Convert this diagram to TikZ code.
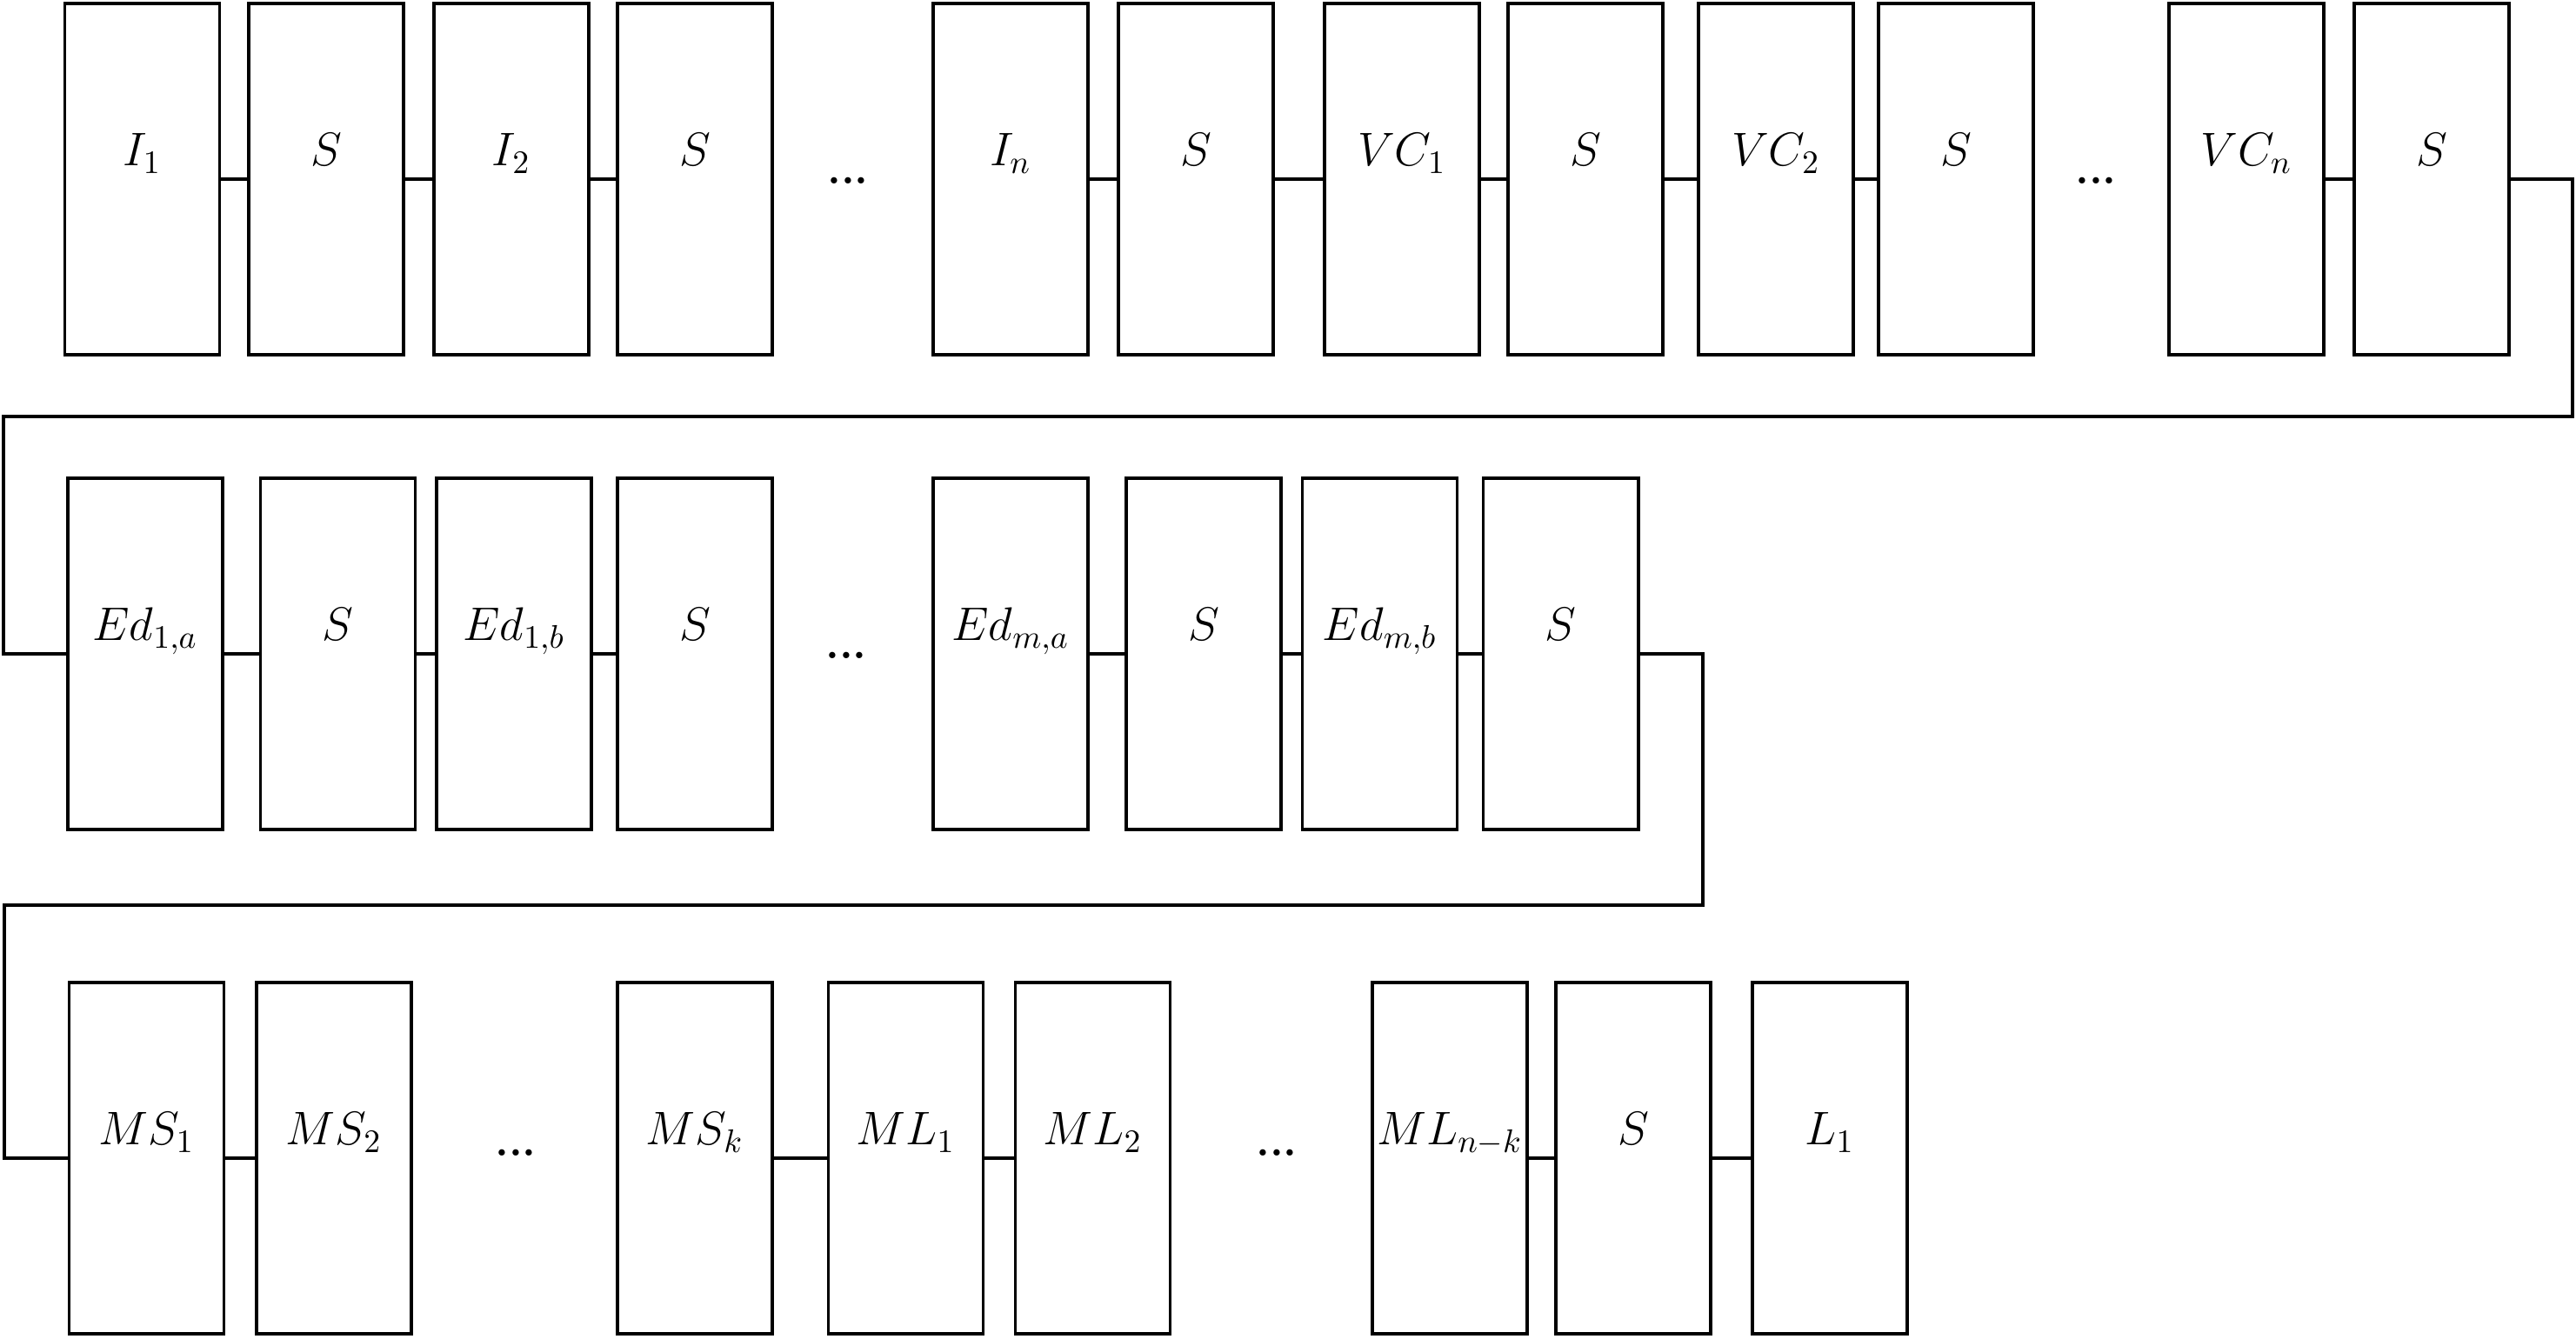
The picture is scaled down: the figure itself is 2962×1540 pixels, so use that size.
\documentclass[tikz,border=0pt]{standalone}
\usepackage{graphicx}
\newcommand{\mylab}[1]{\scalebox{1.07}{$#1$}}
\begin{document}
\begin{tikzpicture}[x=0.01cm,y=-0.01cm,
  blk/.style={draw, line width=1.1pt, minimum width=1.78cm, minimum height=4.04cm, inner sep=0pt},
  lbl/.style={anchor=base, yshift=0.15cm, inner sep=0pt, font=\fontsize{14.4}{17}\selectfont},
  dotsnode/.style={anchor=base, inner sep=0pt, font=\fontsize{14.4}{17}\selectfont\bfseries},
  wire/.style={line width=1.1pt}]
\useasboundingbox (0,0) rectangle (2962,1540);
% Row 1
\node[blk] (r1a) at (163.5,206) {};
\node[blk] (r1b) at (375,206) {};
\node[blk] (r1c) at (588,206) {};
\node[blk] (r1d) at (799,206) {};
\node[dotsnode] (r1dots1) at (975,212) {...};
\node[blk] (r1e) at (1162,206) {};
\node[blk] (r1f) at (1375,206) {};
\node[blk] (r1g) at (1612,206) {};
\node[blk] (r1h) at (1823,206) {};
\node[blk] (r1i) at (2042,206) {};
\node[blk] (r1j) at (2249,206) {};
\node[dotsnode] (r1dots2) at (2410,212) {...};
\node[blk] (r1k) at (2583,206) {};
\node[blk] (r1l) at (2796,206) {};
\node[lbl] (t1a) at (r1a.center) {\mylab{I_1}};
\node[lbl] (t1b) at (r1b.center) {\mylab{S}};
\node[lbl] (t1c) at (r1c.center) {\mylab{I_2}};
\node[lbl] (t1d) at (r1d.center) {\mylab{S}};
\node[lbl] (t1e) at (r1e.center) {\mylab{I_n}};
\node[lbl] (t1f) at (r1f.center) {\mylab{S}};
\node[lbl] (t1g) at (r1g.center) {\mylab{VC_1}};
\node[lbl] (t1h) at (r1h.center) {\mylab{S}};
\node[lbl] (t1i) at (r1i.center) {\mylab{VC_2}};
\node[lbl] (t1j) at (r1j.center) {\mylab{S}};
\node[lbl] (t1k) at (r1k.center) {\mylab{VC_n}};
\node[lbl] (t1l) at (r1l.center) {\mylab{S}};
% Row 2
\node[blk] (r2a) at (167,752) {};
\node[blk] (r2b) at (388.5,752) {};
\node[blk] (r2c) at (591,752) {};
\node[blk] (r2d) at (799,752) {};
\node[dotsnode] (r2dots) at (973,758) {...};
\node[blk] (r2e) at (1162,752) {};
\node[blk] (r2f) at (1384,752) {};
\node[blk] (r2g) at (1586.5,752) {};
\node[blk] (r2h) at (1794.5,752) {};
\node[lbl] (t2a) at (r2a.center) {\mylab{Ed_{1,a}}};
\node[lbl] (t2b) at (r2b.center) {\mylab{S}};
\node[lbl] (t2c) at (r2c.center) {\mylab{Ed_{1,b}}};
\node[lbl] (t2d) at (r2d.center) {\mylab{S}};
\node[lbl] (t2e) at (r2e.center) {\mylab{Ed_{m,a}}};
\node[lbl] (t2f) at (r2f.center) {\mylab{S}};
\node[lbl] (t2g) at (r2g.center) {\mylab{Ed_{m,b}}};
\node[lbl] (t2h) at (r2h.center) {\mylab{S}};
% Row 3
\node[blk] (r3a) at (168.5,1332) {};
\node[blk] (r3b) at (384,1332) {};
\node[dotsnode] (r3dots1) at (593,1330) {...};
\node[blk] (r3c) at (799,1332) {};
\node[blk] (r3d) at (1041.5,1332) {};
\node[blk] (r3e) at (1256.5,1332) {};
\node[dotsnode] (r3dots2) at (1468,1330) {...};
\node[blk] (r3f) at (1667,1332) {};
\node[blk] (r3g) at (1878,1332) {};
\node[blk] (r3h) at (2104,1332) {};
\node[lbl] (t3a) at (r3a.center) {\mylab{MS_1}};
\node[lbl] (t3b) at (r3b.center) {\mylab{MS_2}};
\node[lbl] (t3c) at (r3c.center) {\mylab{MS_k}};
\node[lbl] (t3d) at (r3d.center) {\mylab{ML_1}};
\node[lbl] (t3e) at (r3e.center) {\mylab{ML_2}};
\node[lbl] (t3f) at (r3f.center) {\mylab{ML_{n-k}}};
\node[lbl] (t3g) at (r3g.center) {\mylab{S}};
\node[lbl] (t3h) at (r3h.center) {\mylab{L_1}};
% turn coordinates
\coordinate (c1) at (2958,479);
\coordinate (c2) at (4,479);
\coordinate (c3) at (1958,1041);
\coordinate (c4) at (5,1041);
% connectors row 1
\draw[wire] (r1a.east) -- (r1b.west);
\draw[wire] (r1b.east) -- (r1c.west);
\draw[wire] (r1c.east) -- (r1d.west);
\draw[wire] (r1e.east) -- (r1f.west);
\draw[wire] (r1f.east) -- (r1g.west);
\draw[wire] (r1g.east) -- (r1h.west);
\draw[wire] (r1h.east) -- (r1i.west);
\draw[wire] (r1i.east) -- (r1j.west);
\draw[wire] (r1k.east) -- (r1l.west);
\draw[wire] (r1l.east) -| (c1) -- (c2) |- (r2a.west);
% connectors row 2
\draw[wire] (r2a.east) -- (r2b.west);
\draw[wire] (r2b.east) -- (r2c.west);
\draw[wire] (r2c.east) -- (r2d.west);
\draw[wire] (r2e.east) -- (r2f.west);
\draw[wire] (r2f.east) -- (r2g.west);
\draw[wire] (r2g.east) -- (r2h.west);
\draw[wire] (r2h.east) -| (c3) -- (c4) |- (r3a.west);
% connectors row 3
\draw[wire] (r3a.east) -- (r3b.west);
\draw[wire] (r3c.east) -- (r3d.west);
\draw[wire] (r3d.east) -- (r3e.west);
\draw[wire] (r3f.east) -- (r3g.west);
\draw[wire] (r3g.east) -- (r3h.west);
\end{tikzpicture}
\end{document}
